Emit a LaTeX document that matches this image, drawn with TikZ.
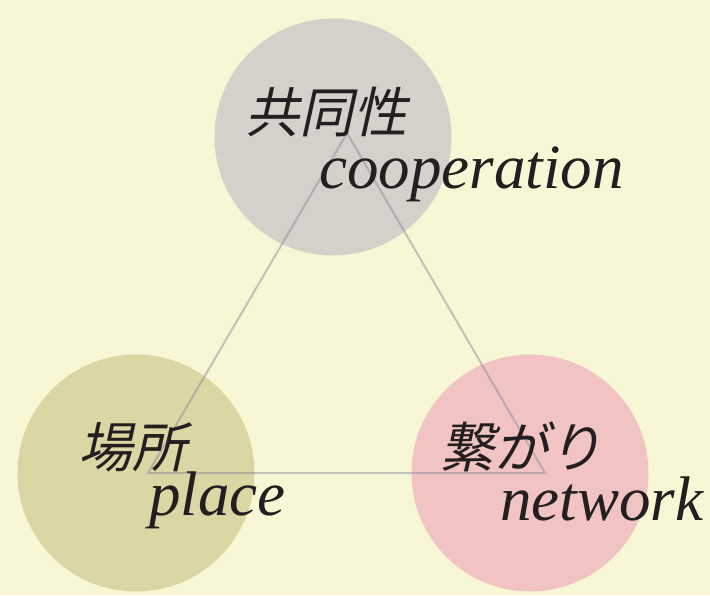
\documentclass[tikz,border=0pt]{standalone}
\usepackage{fontspec}
\setmainfont{Liberation Serif}
\newfontfamily\jpfont[FakeSlant=0.22]{Noto Sans CJK JP}
\definecolor{bgc}{HTML}{F7F7D5}
\definecolor{coopc}{HTML}{D4D1CB}
\definecolor{placec}{HTML}{DBD7A4}
\definecolor{netc}{HTML}{F1C4C3}
\definecolor{inkc}{HTML}{231F20}
\definecolor{linec}{HTML}{8E8A9C}
\tikzset{
  blob/.style={circle, inner sep=0pt, minimum size=237pt},
  jplabel/.style={anchor=base west, inner sep=0pt, text=inkc, font=\jpfont\fontsize{54}{54}\selectfont},
  enlabel/.style={anchor=base west, inner sep=0pt, text=inkc, font=\itshape\fontsize{63}{63}\selectfont},
  tri/.style={draw=linec, draw opacity=0.5, line width=2pt, line join=miter}
}
\begin{document}
\begin{tikzpicture}[x=1pt,y=-1pt]
\fill[bgc] (0,0) rectangle (710,595);
\useasboundingbox (0,0) rectangle (710,595);
\node[blob, fill=coopc] (coop) at (333,137) {};
\node[blob, fill=placec] (place) at (136,473) {};
\node[blob, fill=netc] (net) at (530,473) {};
\coordinate (tA) at (347,133);
\coordinate (tB) at (148,473);
\coordinate (tC) at (545,473);
\draw[tri] (tA) -- (tB) -- (tC) -- cycle;
\node[jplabel] (jcoop) at (245,132) {共同性};
\node[enlabel] (ecoop) at (319,188) {cooperation};
\node[jplabel] (jplace) at (78,467) {場所};
\node[enlabel] (eplace) at (149,515) {place};
\node[jplabel] (jnet) at (440,467) {繋がり};
\node[enlabel] (enet) at (500,520) {network};
\end{tikzpicture}
\end{document}
